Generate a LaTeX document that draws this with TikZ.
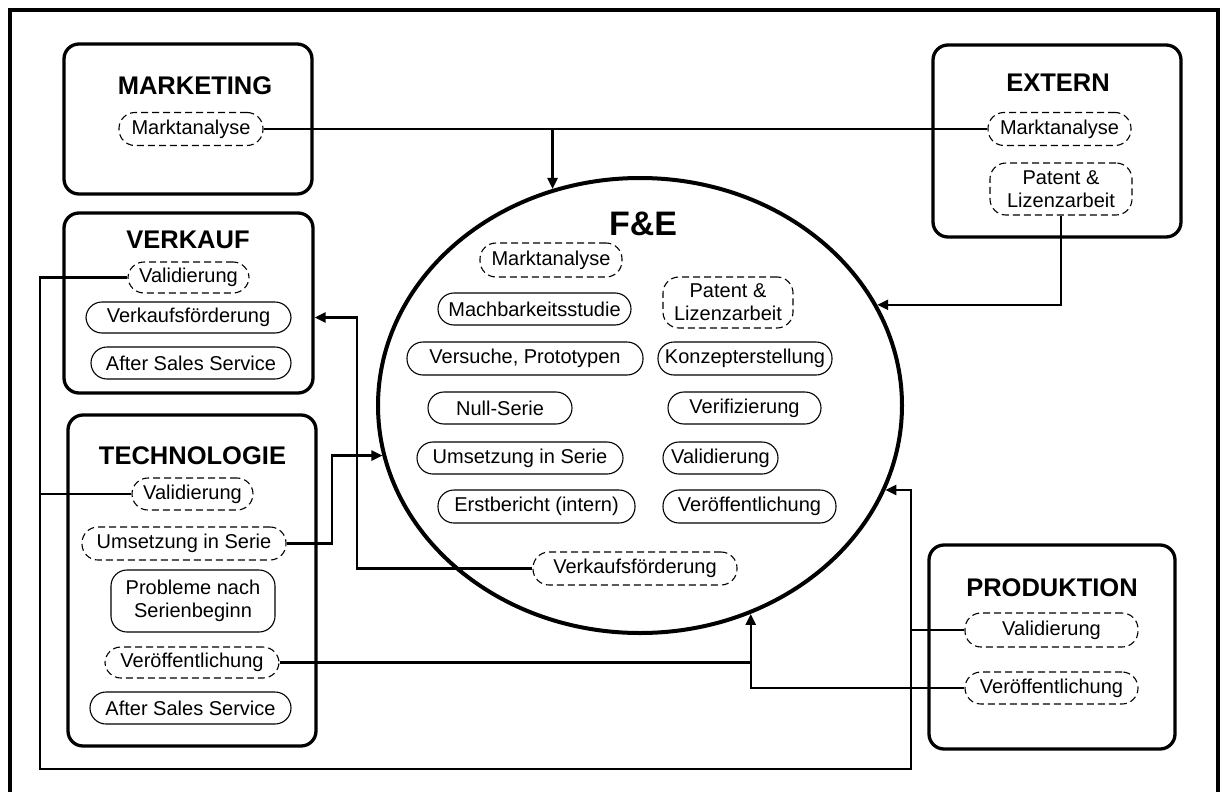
\documentclass[tikz,border=0pt]{standalone}
\usepackage{fontspec}
\setmainfont{Liberation Sans}
\usetikzlibrary{arrows.meta,shapes.geometric}

\tikzset{
  dept/.style={draw, line width=3.3pt, rounded corners=15pt, inner sep=0pt},
  depttitle/.style={font=\fontsize{25.5}{28}\selectfont\bfseries, inner sep=0pt},
  pill/.style={draw, line width=1.1pt, rounded corners=16pt, minimum height=33pt,
               inner sep=0pt, align=center, font=\fontsize{20}{23}\selectfont},
  dpill/.style={pill, dash pattern=on 7pt off 4pt},
  conn/.style={line width=2.5pt},
  arr/.style={conn, -{Triangle[length=11pt,width=10pt]}},
}

\begin{document}
\begin{tikzpicture}[x=1pt,y=-1pt]
\clip (0,0) rectangle (1223,792);

% outer frame (open towards the lower page edge)
\draw[line width=3.3pt] (10,800) -- (10,10) -- (1218,10) -- (1218,800);

% department boxes
\node[dept, minimum width=248pt, minimum height=150pt] (mk) at (188,119) {};
\node[dept, minimum width=248pt, minimum height=192pt] (ex) at (1057,141) {};
\node[dept, minimum width=249pt, minimum height=180pt] (vk) at (188.5,303) {};
\node[dept, minimum width=248pt, minimum height=331pt] (tc) at (192,580.5) {};
\node[dept, minimum width=246pt, minimum height=204pt] (pr) at (1052,647) {};

\node[depttitle] (mkt) at (195,86) {MARKETING};
\node[depttitle] (ext) at (1058,83) {EXTERN};
\node[depttitle] (vkt) at (188,240) {VERKAUF};
\node[depttitle] (tct) at (192.5,456) {TECHNOLOGIE};
\node[depttitle] (prt) at (1052,588) {PRODUKTION};

% F&E ellipse
\node[draw, ellipse, line width=4pt, minimum width=524pt, minimum height=455pt, inner sep=0pt] (fe) at (640,405.5) {};
\node[font=\fontsize{34}{36}\selectfont\bfseries, inner sep=0pt] (fet) at (643,224) {F\&E};

% MARKETING
\node[dpill, minimum width=144pt] (mma) at (191,129) {Marktanalyse};
% EXTERN
\node[dpill, minimum width=143pt] (ema) at (1059.5,129) {Marktanalyse};
\node[dpill, minimum width=142pt, minimum height=52pt] (epa) at (1061,189) {Patent \&\\Lizenzarbeit};
% VERKAUF
\node[dpill, minimum width=121pt, minimum height=31pt] (vva) at (188.5,277.5) {Validierung};
\node[pill, minimum width=205pt, minimum height=31pt] (vvf) at (188.5,317.5) {Verkaufsförderung};
\node[pill, minimum width=200pt, minimum height=32pt] (vas) at (191,363) {After Sales Service};
% TECHNOLOGIE
\node[dpill, minimum width=121pt, minimum height=32pt] (tva) at (192.5,494) {Validierung};
\node[dpill, minimum width=204pt] (tus) at (184,543.5) {Umsetzung in Serie};
\node[pill, minimum width=164pt, minimum height=62pt] (tpr) at (193,601) {Probleme nach\\Serienbeginn};
\node[dpill, minimum width=174pt, minimum height=31pt] (tve) at (192,662.5) {Veröffentlichung};
\node[pill, minimum width=201pt, minimum height=32pt] (tas) at (190.5,708) {After Sales Service};
% PRODUKTION
\node[dpill, minimum width=173pt, minimum height=34pt] (pva) at (1051.5,630) {Validierung};
\node[dpill, minimum width=173pt, minimum height=32pt] (pve) at (1051.5,688) {Veröffentlichung};

% F&E activities
\node[dpill, minimum width=142pt, minimum height=34pt] (fma) at (551,260) {Marktanalyse};
\node[pill, minimum width=193pt, minimum height=32pt] (fmb) at (534.5,309) {Machbarkeitsstudie};
\node[dpill, minimum width=130pt, minimum height=51pt] (fpa) at (728,302.5) {Patent \&\\Lizenzarbeit};
\node[pill, minimum width=236pt] (fvp) at (525,358.5) {Versuche, Prototypen};
\node[pill, minimum width=174pt] (fko) at (745,358.5) {Konzepterstellung};
\node[pill, minimum width=144pt, minimum height=32pt] (fns) at (500,408) {Null-Serie};
\node[pill, minimum width=153pt, minimum height=32pt] (fvf) at (744.5,408) {Verifizierung};
\node[pill, minimum width=206pt, minimum height=32pt] (fus) at (520,458) {Umsetzung in Serie};
\node[pill, minimum width=115pt, minimum height=32pt] (fva) at (720.5,458) {Validierung};
\node[pill, minimum width=197pt] (fer) at (536.5,506.5) {Erstbericht (intern)};
\node[pill, minimum width=173pt] (fve) at (749.5,506.5) {Veröffentlichung};
\node[dpill, minimum width=204pt] (fvk) at (635,568.5) {Verkaufsförderung};

% routing columns of the connectors
\coordinate (cl) at (40,769);
\coordinate (cr) at (911,769);
\coordinate (cu) at (332,0);
\coordinate (cv) at (357,0);

% Marktanalyse: Marketing -- Extern, into F&E
\draw[conn] (mma.east) -- (ema.west);
\draw[arr] (mma.east -| fe.112.6) -- (fe.112.6);

% Patent & Lizenzarbeit from Extern
\draw[arr] (epa.south) |- (fe.23.9);

% Validierung loop (Verkauf, Technologie, Produktion)
\draw[arr] (vva.west) -| (cl) -| (cr |- fe.341.8) -- (fe.341.8);
\draw[conn] (tva.west) -- (tva.west -| cl);
\draw[conn] (pva.west) -- (pva.west -| cr);

% Umsetzung in Serie from Technologie
\draw[arr] (tus.east) -| (cu |- fe.191.6) -- (fe.191.6);

% Veroeffentlichung from Technologie and Produktion
\draw[arr] (pve.west) -| (fe.298.05);
\draw[conn] (tve.east) -- (tve.east -| fe.298.05);

% Verkaufsfoerderung back to Verkauf
\draw[arr] (fvk.west) -| (cv |- vvf) -- (vvf -| vk.east);

\end{tikzpicture}
\end{document}
